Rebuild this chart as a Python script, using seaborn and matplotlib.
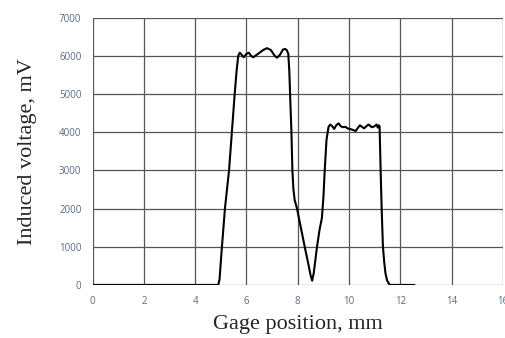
import numpy as np
import pandas as pd
import matplotlib
matplotlib.use('Agg')
import matplotlib.pyplot as plt
import seaborn as sns

# gage position (mm) and induced voltage (mV)
position = [0.0, 4.90, 4.95, 5.02, 5.16, 5.32, 5.43, 5.54, 5.62, 5.68, 5.74,
            5.82, 5.89, 6.00, 6.09, 6.18, 6.26, 6.45, 6.65, 6.80, 6.95, 7.10,
            7.19, 7.30, 7.42, 7.50, 7.57, 7.63, 7.67, 7.71, 7.75, 7.79, 7.83,
            7.88, 7.97, 8.12, 8.27, 8.42, 8.50, 8.56, 8.62, 8.75, 8.85, 8.94,
            9.00, 9.05, 9.12, 9.20, 9.27, 9.35, 9.42, 9.50, 9.59, 9.67, 9.75,
            9.85, 9.94, 10.10, 10.26, 10.34, 10.42, 10.50, 10.59, 10.68, 10.76,
            10.83, 10.89, 10.98, 11.07, 11.12, 11.16, 11.19, 11.23, 11.27,
            11.32, 11.37, 11.42, 11.48, 11.58, 12.55]
voltage = [0, 0, 150, 800, 2000, 3000, 4000, 5000, 5650, 6000, 6080,
           6020, 5960, 6050, 6080, 6000, 5960, 6050, 6150, 6200, 6150, 6000,
           5950, 6020, 6160, 6180, 6150, 6050, 5600, 4800, 4050, 3000, 2500,
           2220, 2000, 1500, 1000, 520, 250, 112, 300, 1000, 1450, 1750,
           2300, 3000, 3800, 4140, 4200, 4150, 4085, 4180, 4230, 4160, 4130,
           4140, 4100, 4070, 4030, 4110, 4180, 4140, 4100, 4160, 4200,
           4160, 4130, 4150, 4200, 4120, 4180, 4150, 3000, 2000,
           1000, 600, 300, 120, 0, 0]

x_ticks = [0, 2, 4, 6, 8, 10, 12, 14, 16]
y_ticks = [0, 1000, 2000, 3000, 4000, 5000, 6000, 7000]

df = pd.DataFrame({'position': position, 'voltage': voltage})

sns.set_style('white')
fig = plt.figure(figsize=(5.06, 3.38), dpi=100)
ax = fig.add_axes([0.183, 0.157, 0.811, 0.791])

sns.lineplot(data=df, x='position', y='voltage', ax=ax, color='black',
             linewidth=1.5, sort=False, estimator=None, zorder=3)

ax.set_xlim(0, 16)
ax.set_ylim(0, 7000)
ax.set_xticks(x_ticks)
ax.set_yticks(y_ticks)
ax.grid(True, color='#555555', linewidth=0.9)
for s in ax.spines.values():
    s.set_visible(False)
ax.tick_params(length=0, labelsize=7, labelcolor='#5a6a85', pad=8)
ax.tick_params(axis='x', pad=8)
for lbl in ax.get_xticklabels() + ax.get_yticklabels():
    lbl.set_fontfamily('Open Sans')

ax.set_xlabel('Gage position, mm', family='Liberation Serif', fontsize=16,
              labelpad=6)
ax.set_ylabel('Induced voltage, mV', family='Liberation Serif', fontsize=16,
              labelpad=16)

fig.savefig('out.png', dpi=100)
